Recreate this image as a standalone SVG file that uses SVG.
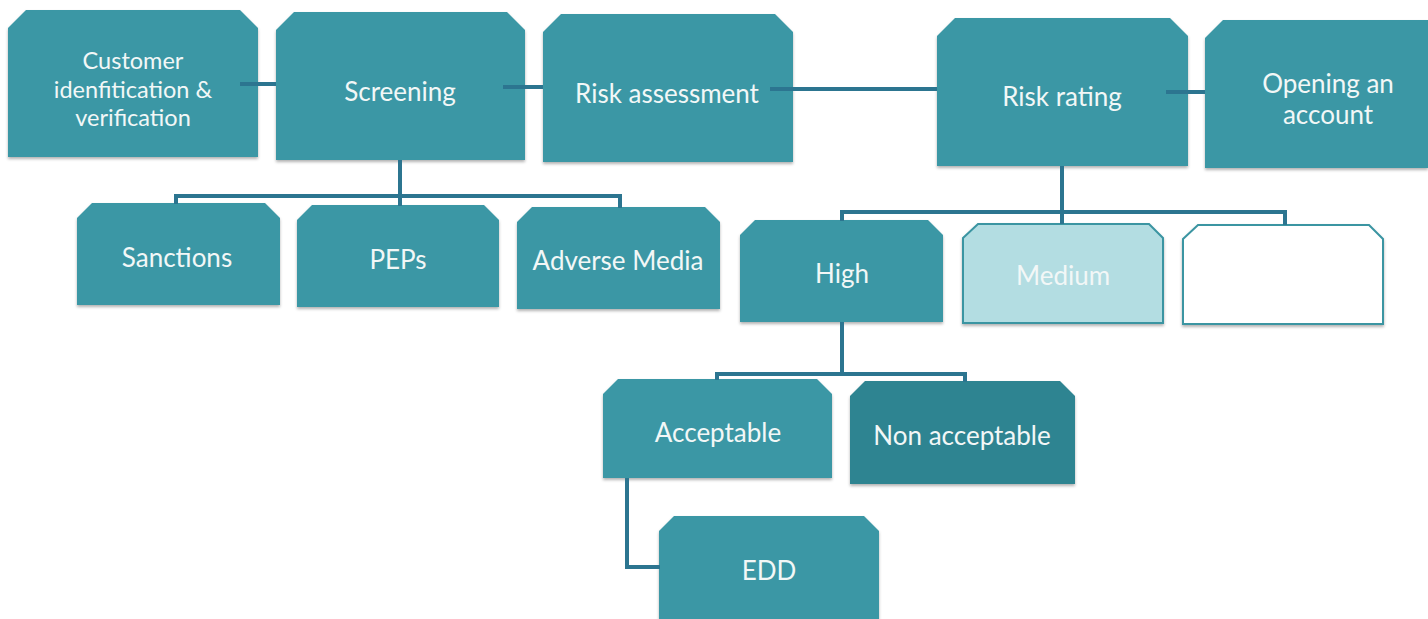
<svg xmlns="http://www.w3.org/2000/svg" width="1428" height="619" viewBox="0 0 1428 619">
<defs>
<filter id="sh" x="-5%" y="-5%" width="110%" height="115%">
<feDropShadow dx="0" dy="2" stdDeviation="1.5" flood-color="#000" flood-opacity="0.3"/>
</filter>
<style>
.n{fill:#3a97a5;filter:url(#sh)}
.d{fill:#2e8491;filter:url(#sh)}
.m{fill:#b3dde2;stroke:#3b95a2;stroke-width:2;filter:url(#sh)}
.e{fill:#ffffff;stroke:#3b95a2;stroke-width:2;filter:url(#sh)}
.t{font-family:Lato,"Open Sans",sans-serif;font-size:26px;fill:#f2f7f7;text-anchor:middle;dominant-baseline:central}
.s{font-size:23.5px}
.c{fill:none;stroke:#2c7590;stroke-width:4;stroke-linecap:butt}
</style>
</defs>
<rect width="1428" height="619" fill="#ffffff"/>
<g id="customer">
<path class="n" d="M8,28 L26,10 H240 L258,28 V157 H8 Z"/>
<text class="t s" x="133" y="60">Customer</text>
<text class="t s" x="133" y="88.5">idenfitication &amp;</text>
<text class="t s" x="133" y="117">verification</text>
</g>
<g id="screening">
<path class="n" d="M276,30 L294,12 H507 L525,30 V160 H276 Z"/>
<text class="t" x="400" y="91">Screening</text>
</g>
<g id="riskassessment">
<path class="n" d="M543,32 L561,14 H775 L793,32 V162 H543 Z"/>
<text class="t" x="667" y="93">Risk assessment</text>
</g>
<g id="riskrating">
<path class="n" d="M937,36 L955,18 H1170 L1188,36 V166 H937 Z"/>
<text class="t" x="1062" y="96">Risk rating</text>
</g>
<g id="opening">
<path class="n" d="M1205,38 L1223,20 H1428 V168 H1205 Z"/>
<text class="t" x="1328" y="83">Opening an</text>
<text class="t" x="1328" y="114">account</text>
</g>
<g id="sanctions">
<path class="n" d="M77,218 L92,203 H265 L280,218 V305 H77 Z"/>
<text class="t" x="177" y="257">Sanctions</text>
</g>
<g id="peps">
<path class="n" d="M297,220 L312,205 H484 L499,220 V307 H297 Z"/>
<text class="t" x="398" y="259">PEPs</text>
</g>
<g id="adverse">
<path class="n" d="M517,222 L532,207 H705 L720,222 V309 H517 Z"/>
<text class="t" x="618" y="260">Adverse Media</text>
</g>
<g id="high">
<path class="n" d="M740,235 L755,220 H928 L943,235 V322 H740 Z"/>
<text class="t" x="842" y="273">High</text>
</g>
<g id="medium">
<path class="m" d="M963,238 L978,224 H1149 L1163,238 V323 H963 Z"/>
<text class="t" x="1063" y="275">Medium</text>
</g>
<g id="empty">
<path class="e" d="M1183,239 L1198,225 H1369 L1383,239 V324 H1183 Z"/>
</g>
<g id="acceptable">
<path class="n" d="M603,394 L618,379 H817 L832,394 V478 H603 Z"/>
<text class="t" x="718" y="432">Acceptable</text>
</g>
<g id="nonacceptable">
<path class="d" d="M850,396 L865,381 H1060 L1075,396 V484 H850 Z"/>
<text class="t" x="962" y="435">Non acceptable</text>
</g>
<g id="edd">
<path class="n" d="M659,531 L674,516 H864 L879,531 V625 H659 Z"/>
<text class="t" x="769" y="570">EDD</text>
</g>
<g id="connectors">
<path class="c" d="M240,84 H276"/>
<path class="c" d="M503,87 H543"/>
<path class="c" d="M770,89 H937"/>
<path class="c" d="M1166,92 H1205"/>
<path class="c" d="M400,160 V196 M176,204 V196 H620 V208 M400,196 V206"/>
<path class="c" d="M1062,166 V212 M842,221 V212 H1285 V225 M1062,212 V224"/>
<path class="c" d="M842,322 V374 M717,380 V374 H965 V382"/>
<path class="c" d="M627,478 V567 H660"/>
</g>
</svg>
